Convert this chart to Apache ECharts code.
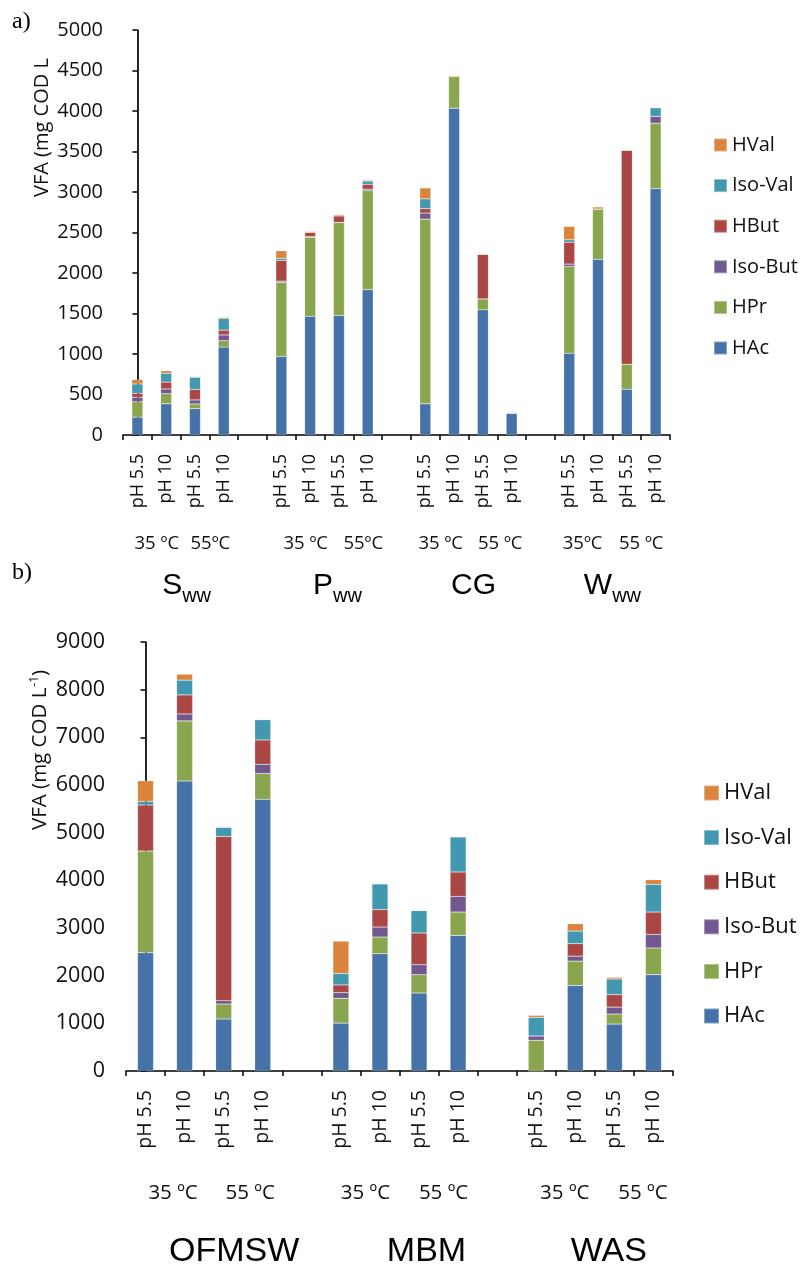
<!DOCTYPE html>
<html>
<head>
<meta charset="utf-8">
<script src="https://cdn.jsdelivr.net/npm/echarts@6/dist/echarts.min.js"></script>
<style>
  html, body { margin: 0; padding: 0; background: #ffffff; }
  #chart { width: 801px; height: 1267px; }
</style>
</head>
<body>
<div id="chart"></div>
<script>
// VFA fractions, stacked from the bottom up
const seriesNames  = ['HAc', 'HPr', 'Iso-But', 'HBut', 'Iso-Val', 'HVal'];
const seriesColors = ['#4572A7', '#89A54E', '#71588F', '#AA4643', '#4198AF', '#DB843D'];
const legendOrder  = ['HVal', 'Iso-Val', 'HBut', 'Iso-But', 'HPr', 'HAc'];

// ---- panel a) : four substrates, 4 runs each, one empty slot between substrates
const topCategories = ['pH 5.5', 'pH 10', 'pH 5.5', 'pH 10', '',
                       'pH 5.5', 'pH 10', 'pH 5.5', 'pH 10', '',
                       'pH 5.5', 'pH 10', 'pH 5.5', 'pH 10', '',
                       'pH 5.5', 'pH 10', 'pH 5.5', 'pH 10'];
const topHAc    = [220, 385, 325, 1085, null,  970, 1465, 1475, 1795, null,  385, 4035, 1545, 270, null, 1010, 2170,  565, 3040];
const topHPr    = [190, 125,  58,   80, null,  915,  975, 1150, 1220, null, 2280,  390,  135,   0, null, 1070,  620,  310,  810];
const topIsoBut = [ 55,  58,  50,   70, null,   15,   10,    0,   20, null,   75,    0,    0,   0, null,   30,    0,    0,   85];
const topHBut   = [ 50,  85, 130,   60, null,  255,   50,   80,   60, null,   55,    0,  550,   0, null,  270,    0, 2640,    0];
const topIsoVal = [115, 110, 150,  145, null,   25,    0,    0,   40, null,  120,    0,    0,   0, null,   30,    0,    0,  105];
const topHVal   = [ 55,  30,   8,   12, null,   95,   12,   15,   12, null,  135,   12,    5,   8, null,  165,   25,    0,    0];
const topTemps     = ['35 ºC', '55ºC', '35 ºC', '55ºC', '35 ºC', '55 ºC', '35ºC', '55 ºC'];
const topGroupMain = ['S', 'P', 'CG', 'W'];
const topGroupSub  = ['ww', 'ww', '', 'ww'];
const topYMax = 5000, topYStep = 500;

// ---- panel b) : three substrates
const botCategories = ['pH 5.5', 'pH 10', 'pH 5.5', 'pH 10', '',
                       'pH 5.5', 'pH 10', 'pH 5.5', 'pH 10', '',
                       'pH 5.5', 'pH 10', 'pH 5.5', 'pH 10'];
const botHAc    = [2480, 6085, 1090, 5700, null, 1005, 2460, 1635, 2845, null,   0, 1795, 985, 2020];
const botHPr    = [2135, 1260,  315,  540, null,  520,  350,  385,  490, null, 645,  510, 210,  560];
const botIsoBut = [   0,  145,   70,  195, null,  120,  210,  210,  330, null,  90,  105, 145,  285];
const botHBut   = [ 965,  400, 3445,  510, null,  160,  365,  665,  510, null,   0,  260, 260,  470];
const botIsoVal = [  75,  310,  190,  425, null,  240,  540,  470,  735, null, 390,  265, 330,  580];
const botHVal   = [ 435,  125,    5,   10, null,  680,    0,    5,    5, null,  42,  155,  35,   98];
const botTemps     = ['35 ºC', '55 ºC', '35 ºC', '55 ºC', '35 ºC', '55 ºC'];
const botGroupMain = ['OFMSW', 'MBM', 'WAS'];
const botYMax = 9000, botYStep = 1000;

// small horizontal nudges (px) for the under-axis captions
const topTempNudge  = [5, 1, 10, 10, 1, 3, -1, 0];
const topGroupNudge = [6, 13, 5, 0];
const botTempNudge  = [8, 7, 5, 5, 9, 9];
const botGroupNudge = [30, 27, 14];

const SANS = '"Open Sans", sans-serif';
const ARIAL = '"Liberation Sans", Arial, sans-serif';
const INK = '#111';

function pad(n) { return n >= 0 ? [0, 0, 0, 2 * n] : [0, -2 * n, 0, 0]; }

// Caption axis: a value axis spanning the category slots so captions can sit between bars
function captionAxis(gridIndex, nSlots, entries, margin) {
  const map = {};
  entries.forEach(e => { map[Math.round(e.pos * 2)] = e.text; });
  const rich = {};
  entries.forEach(e => Object.assign(rich, e.rich));
  return {
    type: 'value', gridIndex, position: 'bottom',
    min: -0.5, max: nSlots - 0.5, interval: 0.5,
    axisLine: { show: false }, axisTick: { show: false }, splitLine: { show: false },
    axisLabel: {
      show: true, margin, showMinLabel: true, showMaxLabel: true, hideOverlap: false,
      formatter: v => map[Math.round(v * 2)] || '',
      rich
    }
  };
}

function tempEntries(temps, nudge, fontSize, prefix) {
  return temps.map((t, i) => {
    const g = Math.floor(i / 2), j = i % 2;
    const key = prefix + i;
    return {
      pos: 5 * g + 0.5 + 2 * j,
      text: '{' + key + '|' + t + '}',
      rich: { [key]: { fontFamily: SANS, fontSize, lineHeight: fontSize, color: INK, padding: pad(nudge[i]) } }
    };
  });
}

const topTempAxis = captionAxis(0, topCategories.length, tempEntries(topTemps, topTempNudge, 18.5, 'ta'), 99);
const botTempAxis = captionAxis(1, botCategories.length, tempEntries(botTemps, botTempNudge, 20.5, 'tb'), 112);

const topGroupAxis = captionAxis(0, topCategories.length, topGroupMain.map((m, i) => {
  const key = 'ga' + i;
  const sub = topGroupSub[i];
  const p = pad(topGroupNudge[i]);
  return {
    pos: 5 * i + 1.5,
    text: '{' + key + '|' + m + '}' + (sub ? '{gs|' + sub + '}' : ''),
    rich: {
      [key]: { fontFamily: ARIAL, fontSize: 30, lineHeight: 30, color: '#000', verticalAlign: 'bottom',
               padding: [0, p[1], 5, p[3]] },
      gs: { fontFamily: ARIAL, fontSize: 20, lineHeight: 20, color: '#000', verticalAlign: 'bottom' }
    }
  };
}), 141);

const botGroupAxis = captionAxis(1, botCategories.length, botGroupMain.map((m, i) => {
  const key = 'gb' + i;
  return {
    pos: 5 * i + 1.5,
    text: '{' + key + '|' + m + '}',
    rich: { [key]: { fontFamily: ARIAL, fontSize: 34, lineHeight: 34, color: '#000', padding: pad(botGroupNudge[i]) } }
  };
}), 164);

function categoryAxis(gridIndex, cats, fontSize) {
  return {
    type: 'category', gridIndex, data: cats,
    axisLine: { show: true, lineStyle: { color: '#000', width: 1.7 } },
    axisTick: { show: true, alignWithLabel: false, interval: 0, length: 5, lineStyle: { color: '#000', width: 1.5 } },
    axisLabel: { interval: 0, rotate: 90, margin: 19, fontFamily: SANS, fontSize, color: INK },
    splitLine: { show: false }
  };
}

function valueAxis(gridIndex, max, step, fontSize, margin) {
  return {
    type: 'value', gridIndex, min: 0, max, interval: step,
    axisLine: { show: true, lineStyle: { color: '#000', width: 1.7 } },
    axisTick: { show: true, length: 5, lineStyle: { color: '#000', width: 1.5 } },
    axisLabel: { margin, fontFamily: SANS, fontSize, color: INK, formatter: v => String(v) },
    splitLine: { show: false }
  };
}

const topValues = [topHAc, topHPr, topIsoBut, topHBut, topIsoVal, topHVal];
const botValues = [botHAc, botHPr, botIsoBut, botHBut, botIsoVal, botHVal];

const series = [];
seriesNames.forEach((name, i) => {
  series.push({
    name, type: 'bar', stack: 'a', xAxisIndex: 0, yAxisIndex: 0,
    barWidth: 11, data: topValues[i],
    itemStyle: { color: seriesColors[i], borderColor: 'rgba(255,255,255,0.35)', borderWidth: 0.5 }
  });
});
seriesNames.forEach((name, i) => {
  series.push({
    name, type: 'bar', stack: 'b', xAxisIndex: 3, yAxisIndex: 1,
    barWidth: 16, data: botValues[i],
    itemStyle: { color: seriesColors[i], borderColor: 'rgba(255,255,255,0.35)', borderWidth: 0.5 }
  });
});

const chart = echarts.init(document.getElementById('chart'), null, { renderer: 'canvas' });
chart.setOption({
  backgroundColor: '#ffffff',
  animation: false,
  textStyle: { fontFamily: SANS },
  grid: [
    { left: 123, top: 30, width: 547, height: 405, containLabel: false, outerBoundsMode: 'none' },
    { left: 126, top: 642, width: 547, height: 429, containLabel: false, outerBoundsMode: 'none' }
  ],
  xAxis: [
    categoryAxis(0, topCategories, 18),
    topTempAxis,
    topGroupAxis,
    categoryAxis(1, botCategories, 19.5),
    botTempAxis,
    botGroupAxis
  ],
  yAxis: [
    valueAxis(0, topYMax, topYStep, 20, 20),
    valueAxis(1, botYMax, botYStep, 21.5, 21)
  ],
  legend: [
    {
      orient: 'vertical', left: 708, top: 130, icon: 'rect',
      itemWidth: 13, itemHeight: 13, itemGap: 20.6, itemTextGap: 7,
      data: legendOrder, selectedMode: false,
      textStyle: { fontFamily: SANS, fontSize: 20, lineHeight: 20, color: INK }
    },
    {
      orient: 'vertical', left: 698, top: 777, icon: 'rect',
      itemWidth: 15, itemHeight: 15, itemGap: 22.6, itemTextGap: 8,
      data: legendOrder, selectedMode: false,
      textStyle: { fontFamily: SANS, fontSize: 22, lineHeight: 22, color: INK }
    }
  ],
  graphic: [
    { type: 'text', left: 12, top: 10, style: { text: 'a)', font: '24px "Liberation Serif", serif', fill: '#000' } },
    { type: 'text', left: 12, top: 561, style: { text: 'b)', font: '24px "Liberation Serif", serif', fill: '#000' } },
    {
      type: 'text', x: 42, y: 197, rotation: Math.PI / 2,
      style: { text: 'VFA (mg COD L', font: '20px "Open Sans", sans-serif', fill: INK, align: 'left', verticalAlign: 'middle' }
    },
    {
      type: 'text', x: 40, y: 830, rotation: Math.PI / 2,
      style: {
        text: 'VFA (mg COD L{sup|-1})', font: '20.5px "Open Sans", sans-serif', fill: INK,
        align: 'left', verticalAlign: 'middle', lineHeight: 24,
        rich: { sup: { fontFamily: SANS, fontSize: 12, lineHeight: 24, verticalAlign: 'top', fill: INK, padding: [1, 0, 0, 1] } }
      }
    }
  ],
  series
});
</script>
</body>
</html>
